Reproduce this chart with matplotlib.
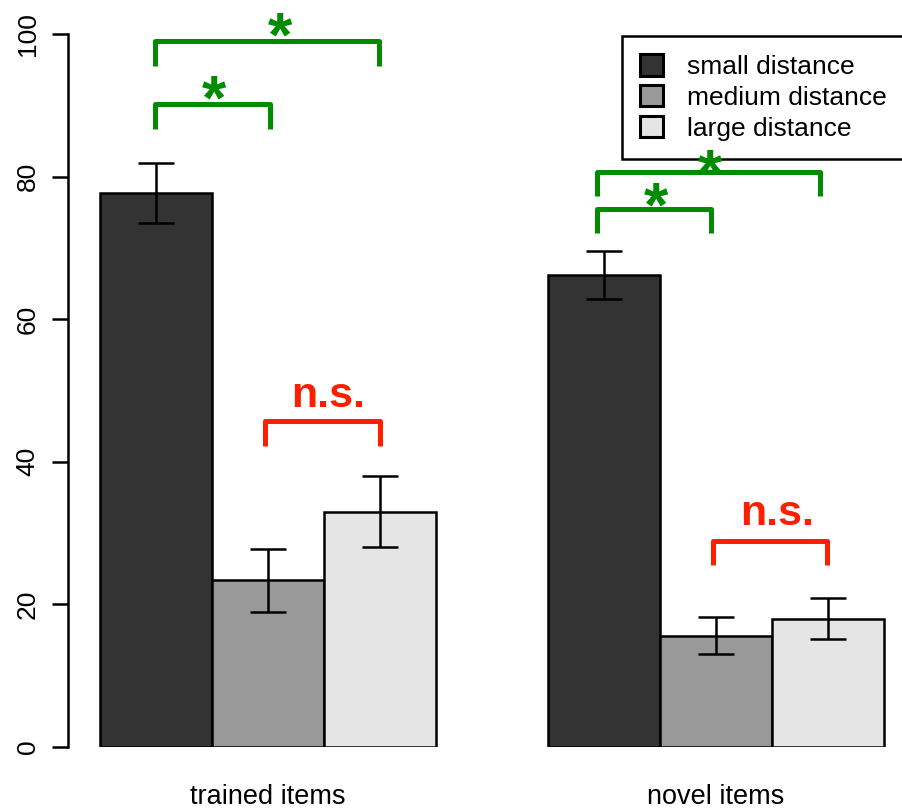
import numpy as np
import matplotlib
matplotlib.use("Agg")
import matplotlib.pyplot as plt
from matplotlib.patches import Patch
from matplotlib.transforms import offset_copy

plt.rcParams["font.family"] = ["Liberation Sans", "DejaVu Sans"]

groups = ["trained items", "novel items"]
conditions = ["small distance", "medium distance", "large distance"]
fills = ["#333333", "#999999", "#e5e5e5"]

# percent correct, mean and s.e.m. per group
means_trained = [77.7, 23.4, 33.0]
means_novel = [66.2, 15.6, 18.0]
sem_trained = [4.2, 4.4, 5.0]
sem_novel = [3.4, 2.6, 2.9]

# significance brackets: (x left, x right, y top, y legs)
green_brackets = [(1.49, 2.52, 90.2, 86.7), (1.49, 3.49, 99.0, 95.5),
                  (5.44, 6.46, 75.5, 72.1), (5.44, 7.43, 80.6, 77.3)]
red_brackets = [(2.47, 3.50, 45.7, 42.2), (6.47, 7.49, 28.9, 25.5)]
star_pos = [(2.02, 93.1), (2.61, 102.0), (5.96, 78.1), (6.45, 82.7)]
ns_pos = [(3.04, 47.7), (7.05, 31.1)]

GREEN = "#008b00"
RED = "#ff1f00"
LW = 1.8

fig = plt.figure(figsize=(9.03, 8.09), dpi=100)
ax = fig.add_axes([68 / 903, 62 / 809, 1 - 68 / 903, 713 / 809])

means = [means_trained, means_novel]
sems = [sem_trained, sem_novel]
for g in range(len(groups)):
    for c in range(len(conditions)):
        left = 1 + g * 4 + c
        ax.bar(left, means[g][c], width=1, align="edge", color=fills[c],
               edgecolor="black", linewidth=LW, zorder=2)
        ax.errorbar(left + 0.5, means[g][c], yerr=sems[g][c], fmt="none",
                    ecolor="black", elinewidth=LW, capsize=13, capthick=LW,
                    zorder=3)

for x0, x1, yt, yb in green_brackets:
    ax.plot([x0, x0, x1, x1], [yb, yt, yt, yb], color=GREEN, lw=3.6,
            solid_joinstyle="round", solid_capstyle="butt", clip_on=False,
            zorder=6)
for x0, x1, yt, yb in red_brackets:
    ax.plot([x0, x0, x1, x1], [yb, yt, yt, yb], color=RED, lw=3.6,
            solid_joinstyle="round", solid_capstyle="butt", clip_on=False,
            zorder=6)

# asterisk glyph sits high, so shift the baseline down to centre the ink
star_size = 45
star_tr = offset_copy(ax.transData, fig=fig, y=-0.57 * star_size, units="points")
for x, y in star_pos:
    ax.text(x, y, "*", transform=star_tr, ha="center", va="baseline",
            fontsize=star_size, fontweight="bold", color=GREEN, zorder=7)
for x, y in ns_pos:
    ax.text(x, y, "n.s.", ha="center", va="baseline", fontsize=31,
            fontweight="bold", color=RED, zorder=7)

ax.set_xlim(0.714, 8.17)
ax.set_ylim(0, 100)
ax.set_yticks([0, 20, 40, 60, 80, 100])
ax.set_yticklabels(["0", "20", "40", "60", "80", "100"], rotation=90,
                   va="center", fontsize=19)
ax.set_xticks([2.5, 6.5])
ax.set_xticklabels(groups, fontsize=19.5)
ax.tick_params(axis="x", length=0, pad=27)
ax.tick_params(axis="y", length=11.5, width=LW, pad=9)
for side in ["top", "right", "bottom"]:
    ax.spines[side].set_visible(False)
ax.spines["left"].set_linewidth(LW)
ax.spines["left"].set_bounds(0, 100)

handles = [Patch(facecolor=f, edgecolor="black", linewidth=2.2) for f in fills]
leg = ax.legend(handles, conditions, loc="upper left", mode="expand",
                bbox_to_anchor=(622 / 903, 1 - 36 / 809, 300 / 903, 0),
                bbox_transform=fig.transFigure, borderaxespad=0,
                fancybox=False, framealpha=1, fontsize=19, handlelength=0.85,
                handleheight=0.85, handletextpad=0.9, labelspacing=0.23,
                borderpad=0.7)
leg.set_zorder(5)
leg.get_frame().set_edgecolor("black")
leg.get_frame().set_linewidth(LW)

fig.savefig("out.png", dpi=100)
